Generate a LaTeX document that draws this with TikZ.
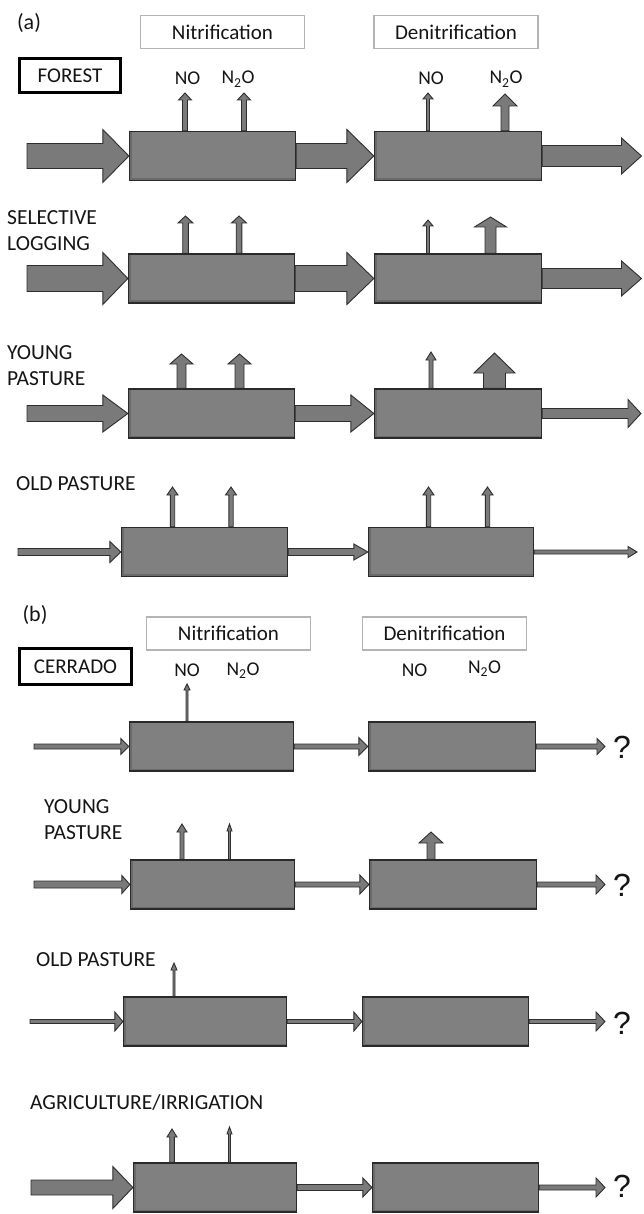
\documentclass[tikz,border=0pt]{standalone}
\usepackage{fontspec}
\setmainfont{Carlito}
\newfontfamily\qfont{Liberation Sans}
\usetikzlibrary{calc}
\definecolor{boxline}{HTML}{2A2A2A}
\definecolor{boxdark}{HTML}{6A6A6A}
\definecolor{boxfill}{HTML}{808080}
\definecolor{arrline}{HTML}{2E2E2E}
\definecolor{arrfill}{HTML}{7A7A7A}
\definecolor{hdrline}{HTML}{B4B4B4}
\definecolor{txt}{HTML}{151515}
\pgfdeclarelayer{bg}
\pgfsetlayers{bg,main}
\newcommand{\hblk}[5]{\path[blk] let \p1=(#1), \p2=(#2) in (\x1,\y1+#3) -- (\x2-#5,\y1+#3) -- (\x2-#5,\y1+#4) -- (\x2,\y1) -- (\x2-#5,\y1-#4) -- (\x2-#5,\y1-#3) -- (\x1,\y1-#3) -- cycle;}
\newcommand{\vblk}[5]{\path[blk] let \p1=(#1), \p2=(#2) in (\x1-#3,\y1) -- (\x1-#3,\y2-#5) -- (\x1-#4,\y2-#5) -- (\x1,\y2) -- (\x1+#4,\y2-#5) -- (\x1+#3,\y2-#5) -- (\x1+#3,\y1) -- cycle;}
\begin{document}
\begin{tikzpicture}[x=1pt,y=-1pt,
  pbox/.style={draw=boxline,line width=1.3pt,fill=boxdark,inner sep=0pt,minimum height=49,
    path picture={\fill[boxfill] ([xshift=2.5pt,yshift=-0.5pt]path picture bounding box.north west) rectangle ([xshift=-0.5pt,yshift=2.5pt]path picture bounding box.south east);}},
  blk/.style={draw=arrline,line width=0.9pt,fill=arrfill,line join=miter},
  hbox/.style={draw=hdrline,line width=1.3pt,inner sep=0pt,minimum width=164,minimum height=33,text=txt,font=\fontsize{21}{25}\selectfont},
  sbox/.style={draw=black,line width=3pt,inner sep=0pt,text=txt,font=\fontsize{21}{25}\selectfont},
  gas/.style={inner sep=0pt,anchor=base,text=txt,font=\fontsize{19.5}{23}\selectfont},
  rlbl/.style={inner sep=0pt,anchor=west,align=left,text=txt,font=\fontsize{21.5}{26}\selectfont},
  plbl/.style={inner sep=0pt,text=txt,font=\fontsize{22}{26}\selectfont},
  qm/.style={inner sep=0pt,text=txt,font=\qfont\fontsize{32}{36}\selectfont}]
\useasboundingbox (0,0) rectangle (643,1214);
\begin{pgfonlayer}{bg}
\fill[white] (0,0) rectangle (643,1214);
\end{pgfonlayer}

% ---------------- panel (a) ----------------
\node[plbl] (pa) at (29,23) {(a)};
\node[hbox] (ha1) at (222.5,32) {Nitrification};
\node[hbox] (ha2) at (456,32) {Denitrification};
\node[sbox,minimum width=101,minimum height=34] (forest) at (70,75.5) {FOREST};
\node[gas] (ano1) at (187.5,85) {NO};
\node[gas] (an2o1) at (238,84) {N\textsubscript{2}O};
\node[gas] (ano2) at (431,85) {NO};
\node[gas] (an2o2) at (506,84) {N\textsubscript{2}O};
\node[rlbl] (la2) at (7,231) {SELECTIVE\\LOGGING};
\node[rlbl] (la3) at (7,365.5) {YOUNG\\PASTURE};
\node[rlbl] (la4) at (16,483.5) {OLD PASTURE};

\node[pbox,minimum width=166] (a1n) at (212.5,156) {};
\node[pbox,minimum width=167] (a1d) at (458,156) {};
\node[pbox,minimum width=166] (a2n) at (211.5,278.5) {};
\node[pbox,minimum width=167] (a2d) at (458,278.5) {};
\node[pbox,minimum width=166] (a3n) at (211.5,413.5) {};
\node[pbox,minimum width=167] (a3d) at (458,413.5) {};
\node[pbox,minimum width=166] (a4n) at (204.5,552) {};
\node[pbox,minimum width=165] (a4d) at (451,552) {};

\coordinate (a1in) at (27,156);   \coordinate (a1out) at (641.5,156);
\coordinate (a2in) at (27,278.5); \coordinate (a2out) at (641.5,278.5);
\coordinate (a3in) at (27,413.5); \coordinate (a3out) at (641,413.5);
\coordinate (a4in) at (18,552);   \coordinate (a4out) at (637,552);
\coordinate (a1t1) at (185,93);  \coordinate (a1t2) at (244,93);  \coordinate (a1t3) at (428,93);  \coordinate (a1t4) at (505,94);
\coordinate (a2t1) at (185.5,216); \coordinate (a2t2) at (239,216); \coordinate (a2t3) at (428,220); \coordinate (a2t4) at (490.5,217);
\coordinate (a3t1) at (181.5,354); \coordinate (a3t2) at (239.5,354); \coordinate (a3t3) at (431,352); \coordinate (a3t4) at (494.5,353);
\coordinate (a4t1) at (172.5,487); \coordinate (a4t2) at (231,487); \coordinate (a4t3) at (428.5,487); \coordinate (a4t4) at (487.5,487);

% ---------------- panel (b) ----------------
\node[plbl] (pb) at (35,615) {(b)};
\node[hbox] (hb1) at (228.5,633.5) {Nitrification};
\node[hbox] (hb2) at (444.5,633.5) {Denitrification};
\node[sbox,minimum width=112,minimum height=36] (cerrado) at (75.5,666.5) {CERRADO};
\node[gas] (bno1) at (187,676) {NO};
\node[gas] (bn2o1) at (243,675) {N\textsubscript{2}O};
\node[gas] (bno2) at (414.5,676) {NO};
\node[gas] (bn2o2) at (484.5,673) {N\textsubscript{2}O};
\node[rlbl] (lb2) at (44,820) {YOUNG\\PASTURE};
\node[rlbl] (lb3) at (36,959.5) {OLD PASTURE};
\node[rlbl] (lb4) at (30,1102.5) {AGRICULTURE/IRRIGATION};

\node[pbox,minimum width=164] (b1n) at (211.5,746.5) {};
\node[pbox,minimum width=167] (b1d) at (452,746.5) {};
\node[pbox,minimum width=164] (b2n) at (212.5,884.5) {};
\node[pbox,minimum width=167] (b2d) at (453,884.5) {};
\node[pbox,minimum width=163] (b3n) at (205,1021.5) {};
\node[pbox,minimum width=166] (b3d) at (445.5,1021.5) {};
\node[pbox,minimum width=163] (b4n) at (215,1187.5) {};
\node[pbox,minimum width=166] (b4d) at (455.5,1187.5) {};

\coordinate (b1in) at (34,746.5);  \coordinate (b1out) at (605,746.5);
\coordinate (b2in) at (34,884.5);  \coordinate (b2out) at (605,884.5);
\coordinate (b3in) at (30,1021.5); \coordinate (b3out) at (605,1021.5);
\coordinate (b4in) at (31,1187.5); \coordinate (b4out) at (605,1187.5);
\coordinate (b1t1) at (187,684);
\coordinate (b2t1) at (182,824); \coordinate (b2t2) at (229.5,824); \coordinate (b2t3) at (431,832);
\coordinate (b3t1) at (174,963);
\coordinate (b4t1) at (172,1129); \coordinate (b4t2) at (229.5,1127);

\node[qm] (q1) at (622,747) {?};
\node[qm] (q2) at (622,885) {?};
\node[qm] (q3) at (622,1023) {?};
\node[qm] (q4) at (622,1186) {?};

\begin{pgfonlayer}{bg}
% panel (a) flows
\hblk{a1in}{a1n.west}{12.5pt}{26.5pt}{26pt}
\hblk{a1n.east}{a1d.west}{12.5pt}{26.5pt}{27pt}
\hblk{a1d.east}{a1out}{10.5pt}{18pt}{20pt}
\hblk{a2in}{a2n.west}{13pt}{26pt}{25pt}
\hblk{a2n.east}{a2d.west}{13pt}{26pt}{27pt}
\hblk{a2d.east}{a2out}{10pt}{17.5pt}{20pt}
\hblk{a3in}{a3n.west}{8pt}{18.5pt}{25pt}
\hblk{a3n.east}{a3d.west}{8pt}{18.5pt}{23pt}
\hblk{a3d.east}{a3out}{5pt}{14pt}{13pt}
\hblk{a4in}{a4n.west}{3.5pt}{10.5pt}{11pt}
\hblk{a4n.east}{a4d.west}{3.5pt}{8pt}{14pt}
\hblk{a4d.east}{a4out}{2pt}{5.5pt}{9pt}
% panel (a) emissions
\vblk{a1n.north -| a1t1}{a1t1}{2.5pt}{6.5pt}{7pt}
\vblk{a1n.north -| a1t2}{a1t2}{2.5pt}{6.5pt}{7pt}
\vblk{a1d.north -| a1t3}{a1t3}{1.5pt}{5pt}{6pt}
\vblk{a1d.north -| a1t4}{a1t4}{4pt}{12pt}{12pt}
\vblk{a2n.north -| a2t1}{a2t1}{2.8pt}{7.5pt}{7pt}
\vblk{a2n.north -| a2t2}{a2t2}{2.8pt}{7.5pt}{7pt}
\vblk{a2d.north -| a2t3}{a2t3}{1.5pt}{5pt}{6pt}
\vblk{a2d.north -| a2t4}{a2t4}{5.5pt}{16pt}{10pt}
\vblk{a3n.north -| a3t1}{a3t1}{4.5pt}{11.5pt}{10pt}
\vblk{a3n.north -| a3t2}{a3t2}{4.5pt}{11.5pt}{10pt}
\vblk{a3d.north -| a3t3}{a3t3}{2pt}{5pt}{8pt}
\vblk{a3d.north -| a3t4}{a3t4}{11pt}{20.5pt}{20pt}
\vblk{a4n.north -| a4t1}{a4t1}{2.2pt}{5.5pt}{8pt}
\vblk{a4n.north -| a4t2}{a4t2}{2.2pt}{5.5pt}{8pt}
\vblk{a4d.north -| a4t3}{a4t3}{2.2pt}{5.5pt}{8pt}
\vblk{a4d.north -| a4t4}{a4t4}{2.2pt}{5.5pt}{8pt}
% panel (b) flows
\hblk{b1in}{b1n.west}{2.5pt}{8pt}{8pt}
\hblk{b1n.east}{b1d.west}{2.5pt}{9pt}{9pt}
\hblk{b1d.east}{b1out}{2.5pt}{8pt}{8pt}
\hblk{b2in}{b2n.west}{3.5pt}{9pt}{8pt}
\hblk{b2n.east}{b2d.west}{2.5pt}{9.5pt}{9pt}
\hblk{b2d.east}{b2out}{2.5pt}{9.5pt}{9pt}
\hblk{b3in}{b3n.west}{2pt}{9.5pt}{8pt}
\hblk{b3n.east}{b3d.west}{2pt}{9.5pt}{8pt}
\hblk{b3d.east}{b3out}{2pt}{9.5pt}{9pt}
\hblk{b4in}{b4n.west}{7.5pt}{21pt}{20pt}
\hblk{b4n.east}{b4d.west}{3pt}{9.5pt}{9pt}
\hblk{b4d.east}{b4out}{2.5pt}{9.5pt}{9pt}
% panel (b) emissions
\vblk{b1n.north -| b1t1}{b1t1}{1pt}{3pt}{6pt}
\vblk{b2n.north -| b2t1}{b2t1}{2pt}{5pt}{8pt}
\vblk{b2n.north -| b2t2}{b2t2}{1pt}{2.5pt}{7pt}
\vblk{b2d.north -| b2t3}{b2t3}{4pt}{12pt}{11pt}
\vblk{b3n.north -| b3t1}{b3t1}{1pt}{3pt}{7pt}
\vblk{b4n.north -| b4t1}{b4t1}{2.3pt}{5pt}{8pt}
\vblk{b4n.north -| b4t2}{b4t2}{1pt}{2.5pt}{7pt}
\end{pgfonlayer}
\end{tikzpicture}
\end{document}
